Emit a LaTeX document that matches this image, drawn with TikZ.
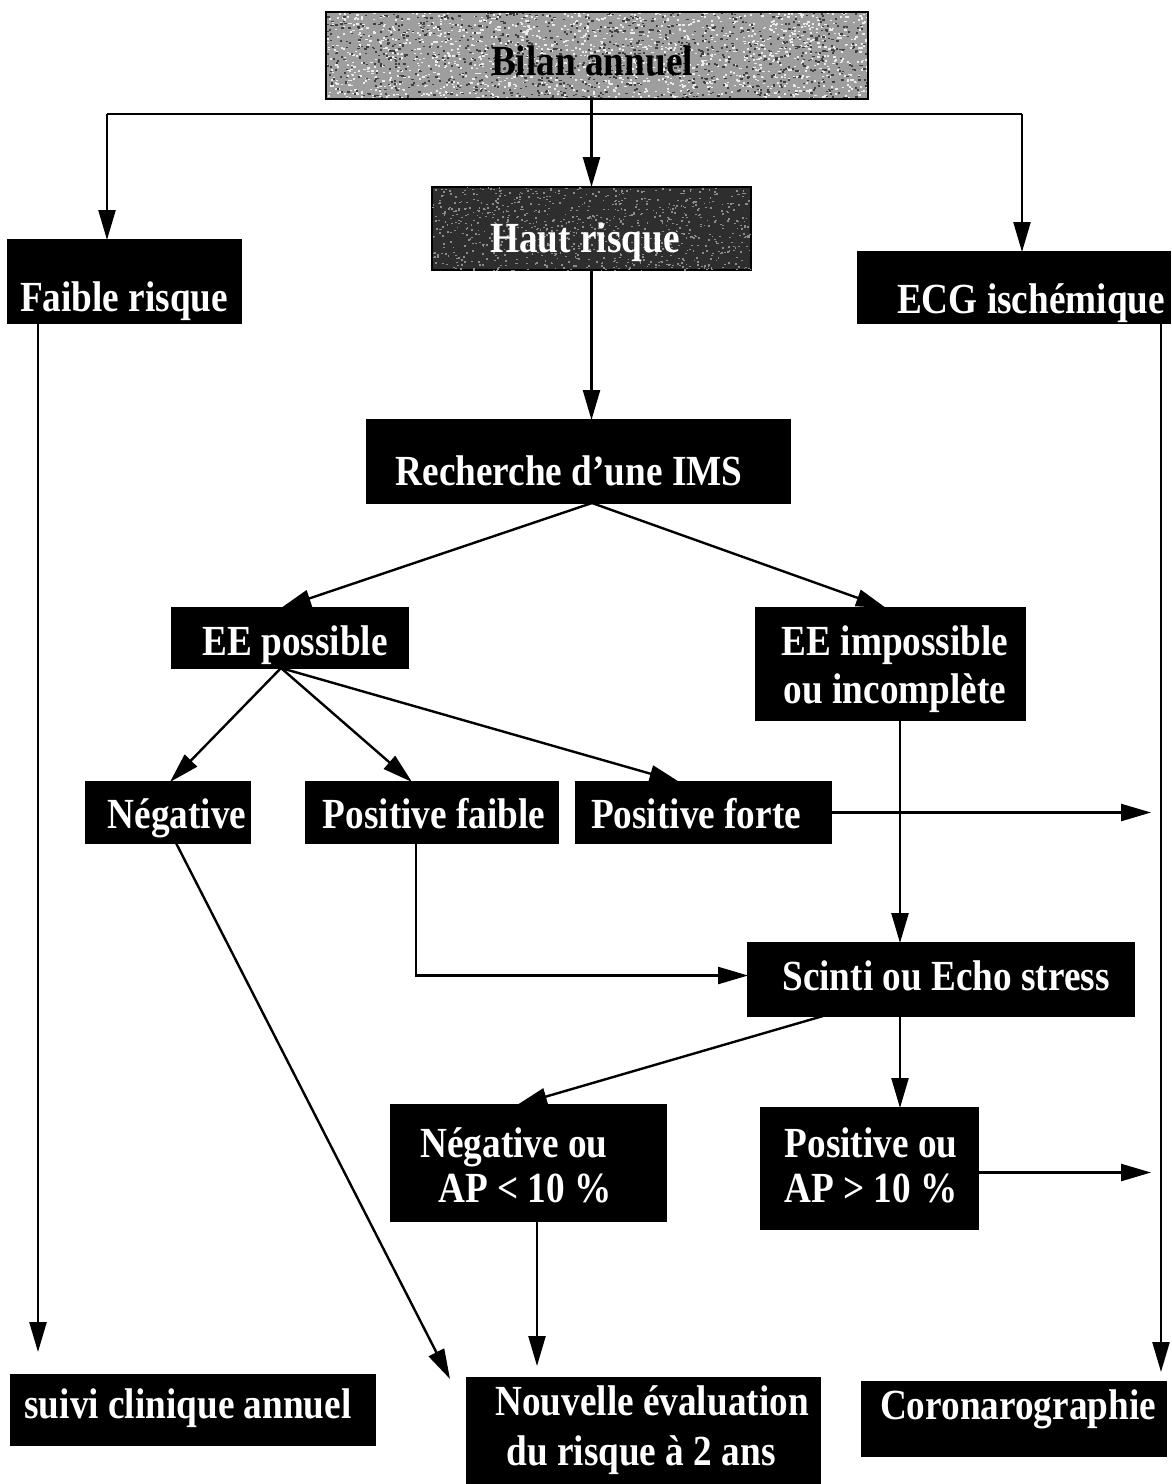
\documentclass[tikz,border=0pt]{standalone}
\usepackage{fontspec}
\usepackage{graphicx}
\setmainfont{Liberation Serif}
\usetikzlibrary{arrows.meta}

% tall, narrow lettering
\newcommand{\tall}[1]{\scalebox{0.98}[1.13]{#1}}

\tikzset{
  box/.style={draw=black, line width=1.5pt, fill=black, inner sep=0pt, outer sep=0pt},
  txt/.style={text=white, font=\fontsize{38}{46}\selectfont\bfseries, inner sep=0pt, anchor=base},
  wire/.style={line width=2.4pt},
  arr/.style={line width=2.4pt, -{Triangle[length=30pt,width=17pt]}},
}

\begin{document}
\begin{tikzpicture}[x=1pt, y=-1pt]
\useasboundingbox (0,0) rectangle (1172,1484);

% ---------- boxes ----------
\node[box, fill=black!38, minimum width=542pt, minimum height=87pt] (Bilan) at (597,55.5) {};
\node[box, minimum width=233pt, minimum height=83pt] (Faible) at (124.5,281.5) {};
\node[box, fill=black!82, minimum width=319pt, minimum height=83pt] (Haut) at (591.5,228.5) {};
\node[box, minimum width=312pt, minimum height=71pt] (ECG) at (1014,287.5) {};
\node[box, minimum width=423pt, minimum height=83pt] (Rech) at (578.5,461.5) {};
\node[box, minimum width=236pt, minimum height=60pt] (EEp) at (290,638) {};
\node[box, minimum width=269pt, minimum height=112pt] (EEi) at (890.5,664) {};
\node[box, minimum width=164pt, minimum height=61pt] (Neg) at (168,812.5) {};
\node[box, minimum width=252pt, minimum height=61pt] (PF) at (432,812.5) {};
\node[box, minimum width=255pt, minimum height=61pt] (PFo) at (703.5,812.5) {};
\node[box, minimum width=386pt, minimum height=73pt] (Scinti) at (941,979.5) {};
\node[box, minimum width=275pt, minimum height=116pt] (NegOu) at (528.5,1163) {};
\node[box, minimum width=217pt, minimum height=121pt] (PosOu) at (869.5,1168.5) {};
\node[box, minimum width=364pt, minimum height=70pt] (Suivi) at (193,1410) {};
\node[box, minimum width=353pt, minimum height=106pt] (Nouv) at (643.5,1431) {};
\node[box, minimum width=304pt, minimum height=74pt] (Coro) at (1014,1419) {};

% ---------- speckled grey fills ----------
\pgfmathsetseed{12}
\begin{scope}
  \clip (Bilan.south west) rectangle (Bilan.north east);
  \foreach \i in {1,...,1500}{\fill[white!85!gray] ({326+542*rnd},{12+87*rnd}) rectangle ++(2.2,1.6);}
  \foreach \i in {1,...,1100}{\fill[black!75] ({326+542*rnd},{12+87*rnd}) rectangle ++(2.2,1.6);}
\end{scope}
\draw[line width=2pt] (Bilan.south west) rectangle (Bilan.north east);
\begin{scope}
  \clip (Haut.south west) rectangle (Haut.north east);
  \foreach \i in {1,...,900}{\fill[black!45] ({432+319*rnd},{187+83*rnd}) rectangle ++(1.8,1.4);}
\end{scope}

% ---------- labels ----------
\node[txt, text=black] (tBilan) at (592,75) {\tall{Bilan annuel}};
\node[txt] (tFaible) at (124,311) {\tall{Faible risque}};
\node[txt] (tHaut) at (585,252) {\tall{Haut risque}};
\node[txt] (tECG) at (1031,313) {\tall{ECG ischémique}};
\node[txt] (tRech) at (569,485) {\tall{Recherche d’une IMS}};
\node[txt] (tEEp) at (295,655) {\tall{EE possible}};
\node[txt] (tEEi1) at (895,655) {\tall{EE impossible}};
\node[txt] (tEEi2) at (895,703) {\tall{ou incomplète}};
\node[txt] (tNeg) at (177,828) {\tall{Négative}};
\node[txt] (tPF) at (434,828) {\tall{Positive faible}};
\node[txt] (tPFo) at (696,828) {\tall{Positive forte}};
\node[txt] (tScinti) at (946,990) {\tall{Scinti ou Echo stress}};
\node[txt] (tNegOu1) at (514,1157) {\tall{Négative ou}};
\node[txt] (tNegOu2) at (525,1202) {\tall{AP < 10 \%}};
\node[txt] (tPosOu1) at (871,1157) {\tall{Positive ou}};
\node[txt] (tPosOu2) at (871,1202) {\tall{AP > 10 \%}};
\node[txt] (tSuivi) at (188,1418) {\tall{suivi clinique annuel}};
\node[txt] (tNouv1) at (652,1415) {\tall{Nouvelle évaluation}};
\node[txt] (tNouv2) at (641,1465) {\tall{du risque à 2 ans}};
\node[txt] (tCoro) at (1018,1419) {\tall{Coronarographie}};

% ---------- connectors ----------
\coordinate (busL) at (107,114);
\coordinate (busR) at (1022,114);
\coordinate (rEnd) at (1151,0);
\draw[wire] (busL) -- (busR);
\draw[arr] (Haut.north |- Bilan.south) -- (Haut.north);
\draw[arr] (busL) -- (busL |- Faible.north);
\draw[arr] (busR) -- (busR |- ECG.north);

\draw[arr] (Haut.south) -- (Haut.south |- Rech.north);

\coordinate (rApex) at ([xshift=13.5pt]Rech.south);
\draw[arr] (rApex) -- ([xshift=-9pt]EEp.north);
\draw[arr] (rApex) -- ([xshift=-4.5pt]EEi.north);

\coordinate (eApex) at ([xshift=-9pt]EEp.south);
\draw[arr] (eApex) -- ([xshift=2pt]Neg.north);
\draw[arr] (eApex) -- ([xshift=-20pt]PF.north);
\draw[arr] (eApex) -- ([xshift=-24pt]PFo.north);

\draw[arr] (PFo.east) -- (PFo.east -| rEnd);
\draw[arr] ([xshift=9.5pt]EEi.south) -- ([xshift=9.5pt]EEi.south |- Scinti.north);
\draw[arr] ([xshift=-16pt]PF.south) |- ([yshift=4pt]Scinti.west);

\draw[arr] ([xshift=-118pt]Scinti.south) -- ([xshift=-11.5pt]NegOu.north);
\draw[arr] ([xshift=-41pt]Scinti.south) -- ([xshift=-41pt]Scinti.south |- PosOu.north);
\draw[arr] ([yshift=-4pt]PosOu.east) -- ([yshift=-4pt]PosOu.east -| rEnd);

\draw[arr, shorten >=12pt] ([xshift=8.5pt]NegOu.south) -- ([xshift=8.5pt]NegOu.south |- Nouv.north);
\draw[arr] ([xshift=8pt]Neg.south) -- ([xshift=-17pt,yshift=-1pt]Nouv.north west);
\draw[arr, shorten >=23pt] ([xshift=-86.5pt]Faible.south) -- ([xshift=-86.5pt]Faible.south |- Suivi.north);
\draw[arr, shorten >=10pt] ([xshift=147pt]ECG.south) -- ([xshift=147pt]ECG.south |- Coro.north);
\end{tikzpicture}
\end{document}
